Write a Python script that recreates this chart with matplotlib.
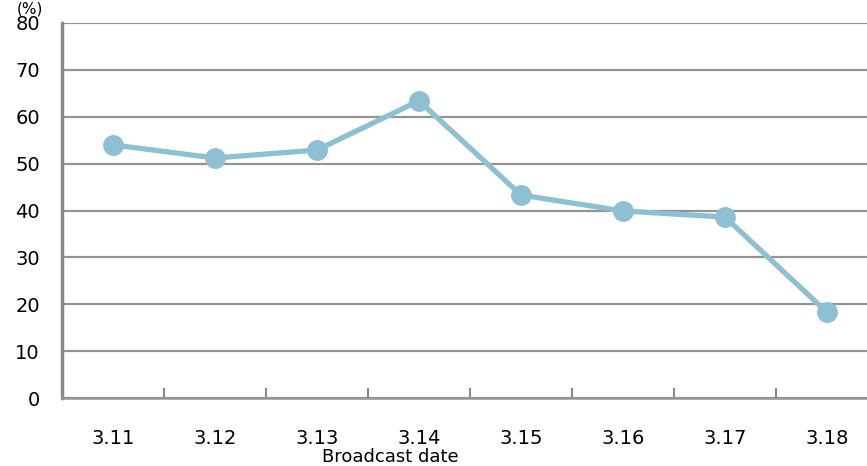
import matplotlib
matplotlib.use("Agg")
import matplotlib.pyplot as plt

dates = ["3.11", "3.12", "3.13", "3.14", "3.15", "3.16", "3.17", "3.18"]
share = [54.0, 51.2, 52.9, 63.4, 43.3, 39.9, 38.6, 18.3]
yticks = [0, 10, 20, 30, 40, 50, 60, 70, 80]

plt.rcParams["font.family"] = ["DejaVu Sans"]

W, H = 867, 466
fig = plt.figure(figsize=(W / 100, H / 100), dpi=100)
# plot area runs past the right edge of the canvas
ax = fig.add_axes([62 / W, 68 / H, 816 / W, 375 / H])

x = list(range(len(dates)))
ax.plot(x, share, "-o", color="#8dc0d3", lw=3.8, ms=14, zorder=3, clip_on=False)

ax.set_xlim(-0.5, len(dates) - 0.5)
ax.set_ylim(0, 80)
ax.set_yticks(yticks)
ax.set_yticklabels([str(v) for v in yticks], fontsize=14)
ax.tick_params(axis="y", length=0, pad=16)
ax.yaxis.grid(True, color="#949494", lw=1.6)
ax.set_axisbelow(True)

ax.set_xticks([i + 0.5 for i in x[:-1]])
ax.set_xticklabels([])
ax.set_xticks(x, minor=True)
ax.set_xticklabels(dates, minor=True, fontsize=14)
ax.tick_params(axis="x", which="major", direction="in", length=7, width=1.5, color="#888888")
ax.tick_params(axis="x", which="minor", length=0, pad=22)

for side in ("top", "right"):
    ax.spines[side].set_visible(False)
ax.spines["left"].set_color("#888888")
ax.spines["left"].set_linewidth(2.5)
ax.spines["bottom"].set_color("#949494")
ax.spines["bottom"].set_linewidth(1.8)

fig.text(390 / W, 1 - 457 / H, "Broadcast date", ha="center", va="center", fontsize=13)
fig.text(30 / W, 1 - 1 / H, "(%)", ha="center", va="top", fontsize=11)

fig.savefig("out.png", dpi=100)
